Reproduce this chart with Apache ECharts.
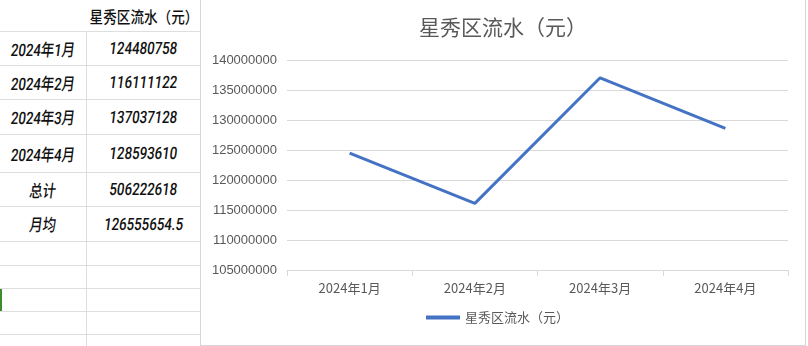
<!DOCTYPE html>
<html>
<head>
<meta charset="utf-8">
<script src="https://cdn.jsdelivr.net/npm/echarts@6/dist/echarts.min.js"></script>
<style>
  html, body { margin: 0; padding: 0; width: 808px; height: 346px; overflow: hidden; background: #fff; }
  #sheet { position: absolute; left: 0; top: 0; width: 808px; height: 346px; }
  .hl { position: absolute; height: 1px; background: #dedede; }
  .vl { position: absolute; width: 1px; background: #dedede; }
  .cell { position: absolute; display: flex; align-items: center; justify-content: center; color: #111; }
  .cell span { display: inline-block; white-space: nowrap; font-family: Roboto, "Noto Sans CJK SC", sans-serif; font-weight: 500; font-size: 17px; transform: scaleX(0.78) skewX(-9deg); }
  .cell span.hdr { transform: scaleX(0.85); font-size: 16px; font-weight: 500; font-family: "Noto Sans CJK SC", sans-serif; }
  #frame { position: absolute; left: 200px; top: -1px; width: 604px; height: 345px; border: 1px solid #d6d6d6; background: #fff; }
  #chart { position: absolute; left: 201px; top: 0; width: 604px; height: 344px; }
</style>
</head>
<body>
<div id="sheet"></div>
<div id="frame"></div>
<div id="chart"></div>
<script>
// ---- data ----
const seriesName = '星秀区流水（元）';
const categories = ['2024年1月', '2024年2月', '2024年3月', '2024年4月'];
const values = [124480758, 116111122, 137037128, 128593610];
const summaryLabels = ['总计', '月均'];
const summaryValues = ['506222618', '126555654.5'];
const yTicks = { min: 105000000, max: 140000000, interval: 5000000 };

// ---- spreadsheet table ----
const sheet = document.getElementById('sheet');
const rowLines = [31, 65, 99, 134, 172, 206, 241, 265, 288, 311, 334];
rowLines.forEach(y => {
  const d = document.createElement('div');
  d.className = 'hl'; d.style.left = '0px'; d.style.width = '200px'; d.style.top = y + 'px';
  sheet.appendChild(d);
});
[86].forEach(x => {
  const d = document.createElement('div');
  d.className = 'vl'; d.style.left = x + 'px'; d.style.top = '31px'; d.style.height = '315px';
  sheet.appendChild(d);
});
const g = document.createElement('div');
g.style.cssText = 'position:absolute;left:0;top:289px;width:2px;height:22px;background:#3f8a2f';
sheet.appendChild(g);

function cell(x0, x1, y0, y1, text, cls) {
  const c = document.createElement('div');
  c.className = 'cell';
  c.style.left = x0 + 'px'; c.style.width = (x1 - x0) + 'px';
  c.style.top = y0 + 'px'; c.style.height = (y1 - y0) + 'px';
  const s = document.createElement('span');
  if (cls) s.className = cls;
  s.textContent = text;
  c.appendChild(s);
  sheet.appendChild(c);
}
cell(87, 200, 0, 31, seriesName, 'hdr');
const labels = categories.concat(summaryLabels);
const cellVals = values.map(String).concat(summaryValues);
for (let i = 0; i < labels.length; i++) {
  cell(0, 86, rowLines[i], rowLines[i + 1], labels[i]);
  cell(87, 200, rowLines[i], rowLines[i + 1], cellVals[i]);
}

// ---- chart ----
const chart = echarts.init(document.getElementById('chart'), null, { renderer: 'canvas' });
chart.setOption({
  animation: false,
  title: {
    text: seriesName,
    left: 'center',
    top: 12,
    textStyle: { color: '#595959', fontSize: 21, fontWeight: 'normal', fontFamily: '"Noto Sans CJK SC", sans-serif' }
  },
  grid: { left: 86, right: 17, top: 60, bottom: 74, containLabel: false },
  legend: {
    data: [{ name: seriesName, icon: 'rect' }],
    bottom: 15,
    left: 220,
    itemWidth: 34,
    itemHeight: 4,
    textStyle: { color: '#595959', fontSize: 13, fontFamily: '"Noto Sans CJK SC", sans-serif' }
  },
  xAxis: {
    type: 'category',
    data: categories,
    boundaryGap: true,
    axisLine: { lineStyle: { color: '#d9d9d9', width: 1 } },
    axisTick: { show: true, length: 6, lineStyle: { color: '#d9d9d9' } },
    axisLabel: { color: '#595959', fontSize: 13, margin: 12, fontFamily: '"Noto Sans CJK SC", sans-serif' }
  },
  yAxis: {
    type: 'value',
    min: yTicks.min,
    max: yTicks.max,
    interval: yTicks.interval,
    axisLine: { show: false },
    axisTick: { show: false },
    splitLine: { lineStyle: { color: '#d9d9d9', width: 1 } },
    axisLabel: { color: '#595959', fontSize: 13, margin: 10, fontFamily: '"Liberation Sans", sans-serif', formatter: v => String(v) }
  },
  series: [{
    name: seriesName,
    type: 'line',
    data: values,
    showSymbol: false,
    symbol: 'none',
    lineStyle: { color: '#4472C4', width: 3 },
    itemStyle: { color: '#4472C4' }
  }]
});
</script>
</body>
</html>
